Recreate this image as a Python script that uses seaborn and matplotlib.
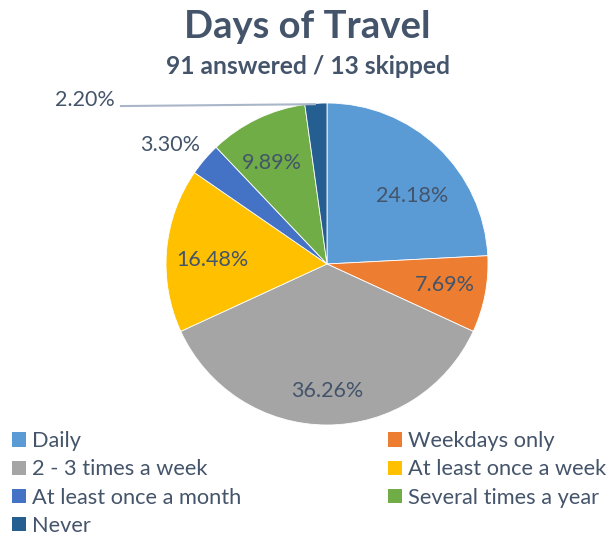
import numpy as np
import seaborn as sns
import matplotlib.pyplot as plt
from matplotlib.patches import Patch

# Survey data (share of 91 answered)
categories = ["Daily", "Weekdays only", "2 - 3 times a week", "At least once a week",
              "At least once a month", "Several times a year", "Never"]
percents = [24.18, 7.69, 36.26, 16.48, 3.30, 9.89, 2.20]
palette = ["#5B9BD5", "#ED7D31", "#A5A5A5", "#FFC000", "#4472C4", "#70AD47", "#255E91"]

title = "Days of Travel"
subtitle = "91 answered / 13 skipped"

# label placement: distance from center (fraction of radius) and angle nudge (deg)
label_radius = [0.676, 0.745, 0.79, 0.715, 1.224, 0.714, None]
label_nudge = [-7.8, 0.8, 0.0, 2.9, 3.3, 2.9, 0.0]
text_color = "#44546A"

sns.set_theme(style="white")
plt.rcParams["font.family"] = ["Lato", "DejaVu Sans"]

fig = plt.figure(figsize=(6.15, 5.36), dpi=100)
fig.patch.set_facecolor("white")

# square axes holding the pie (center ~ (327, 264) px, radius ~161 px)
ax = fig.add_axes([166 / 615, 111 / 536, 322 / 615, 322 / 536])
colors = sns.color_palette(palette)
wedges, _ = ax.pie(percents, colors=colors, startangle=90, counterclock=False,
                   radius=1.0, wedgeprops=dict(edgecolor="white", linewidth=0.6))
ax.set_xlim(-1, 1)
ax.set_ylim(-1, 1)
ax.set_aspect("equal")
ax.axis("off")

for w, pct, r, nudge in zip(wedges, percents, label_radius, label_nudge):
    mid = np.deg2rad((w.theta1 + w.theta2) / 2 + nudge)
    if r is None:
        # tiny slice: label off to the upper left with a leader line
        x0, y0 = np.cos(mid), np.sin(mid)
        ax.plot([-1.286, x0], [0.981, y0 - 0.005], color="#A9B6C8", lw=1.5,
                clip_on=False, solid_capstyle="butt")
        ax.text(-1.317, 1.019, f"{pct:.2f}%", ha="right", va="center",
                fontsize=15.5, color=text_color)
        continue
    ax.text(r * np.cos(mid), r * np.sin(mid), f"{pct:.2f}%", ha="center", va="center",
            fontsize=15.5, color=text_color)

fig.text(0.5, 1 - 38 / 536, title, ha="center", va="baseline", fontsize=27.5,
         fontweight="bold", color=text_color)
fig.text(0.5, 1 - 74 / 536, subtitle, ha="center", va="baseline", fontsize=17.7,
         fontweight="bold", color=text_color)

# legend, filled row by row like the original
handles = [Patch(facecolor=c, edgecolor="none") for c in colors]
order = [0, 2, 4, 6, 1, 3, 5]
leg = fig.legend([handles[i] for i in order], [categories[i] for i in order],
                 ncol=2, loc="upper left", bbox_to_anchor=(0.005, 0.212),
                 frameon=False, fontsize=15.7, handlelength=0.64, handleheight=0.64,
                 handletextpad=0.3, labelspacing=0.38, columnspacing=6.7,
                 borderaxespad=0)
for t in leg.get_texts():
    t.set_color(text_color)

fig.savefig("out.png", dpi=100, facecolor="white")
